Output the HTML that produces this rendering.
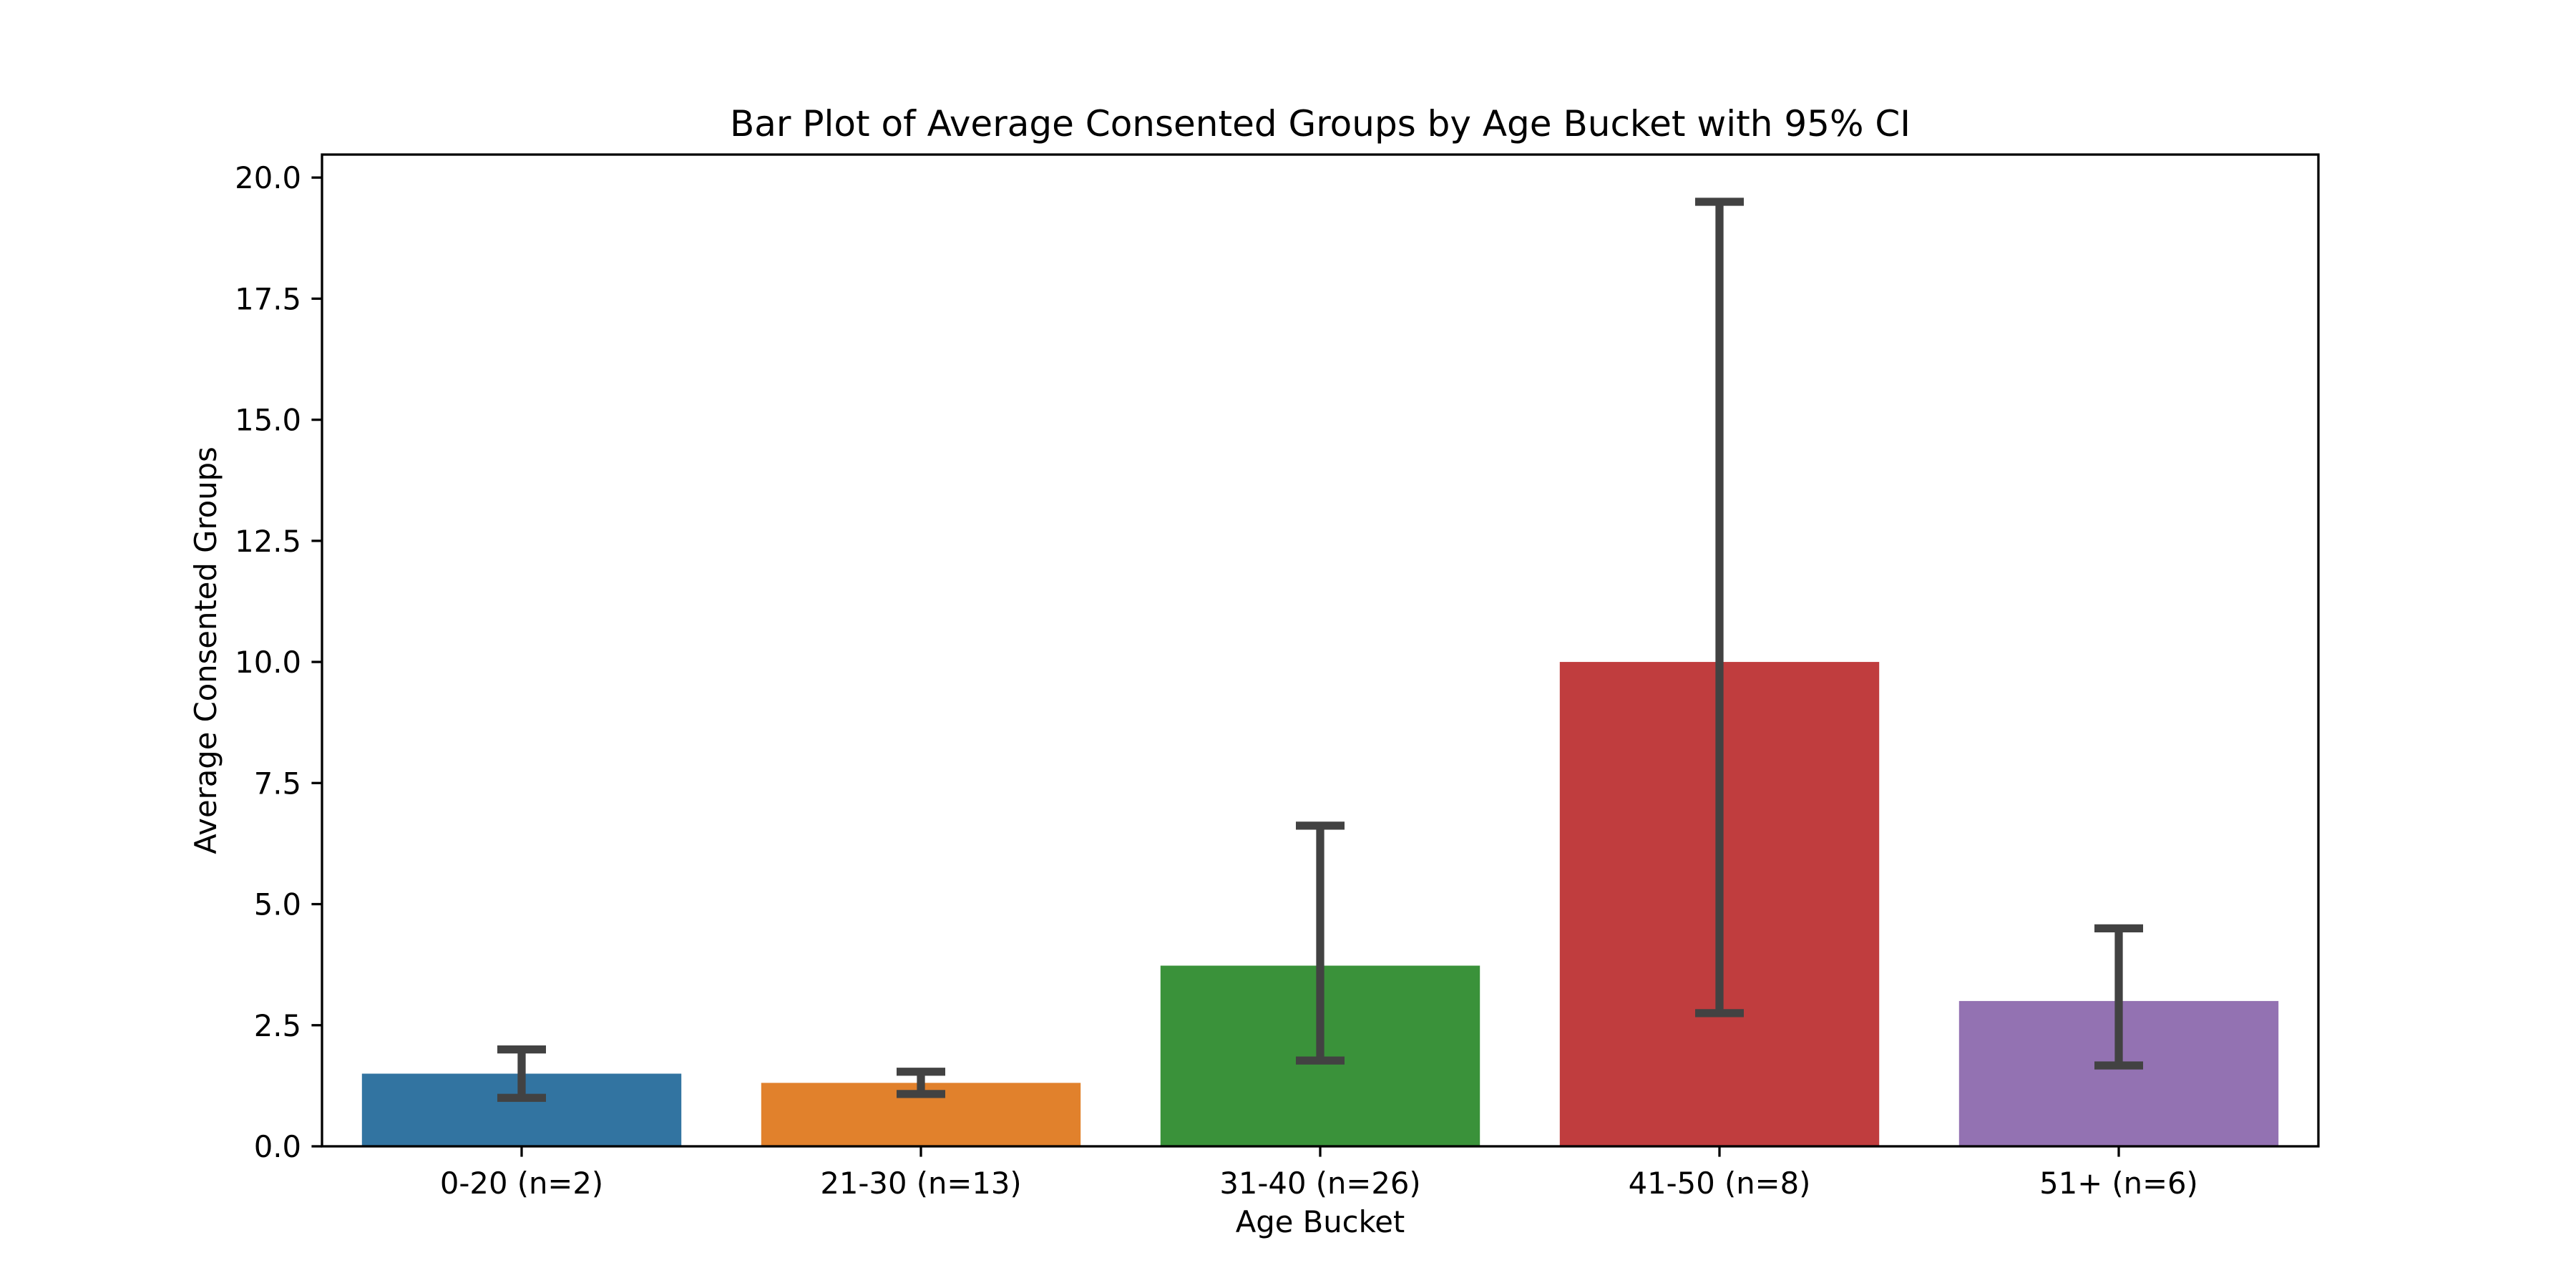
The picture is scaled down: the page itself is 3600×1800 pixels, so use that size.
<!DOCTYPE html>
<html><head><meta charset="utf-8"><style>
html,body{margin:0;padding:0;background:#fff;}
svg{display:block;font-family:"DejaVu Sans","Liberation Sans",sans-serif;}
</style></head><body>
<svg id="chart" width="3600" height="1800" viewBox="0 0 3600 1800" xmlns="http://www.w3.org/2000/svg">
<rect width="3600" height="1800" fill="#fff"/>
<text x="1845" y="190" font-size="50" text-anchor="middle">Bar Plot of Average Consented Groups by Age Bucket with 95% CI</text>
<g id="bars"></g>
<g id="errs"></g>
<g id="yaxis"></g>
<g id="xaxis"></g>
<rect x="450" y="216" width="2790" height="1386" fill="none" stroke="#000" stroke-width="3.3"/>
<text x="1845" y="1722" font-size="41.7" text-anchor="middle">Age Bucket</text>
<text x="0" y="0" font-size="41.7" text-anchor="middle" transform="translate(302,909) rotate(-90)">Average Consented Groups</text>
</svg>
<script>
const categories = ["0-20 (n=2)","21-30 (n=13)","31-40 (n=26)","41-50 (n=8)","51+ (n=6)"];
const means = [1.5, 1.31, 3.73, 10.0, 3.0];
const ciLow = [1.0, 1.08, 1.77, 2.75, 1.67];
const ciHigh = [2.0, 1.54, 6.62, 19.5, 4.5];
const colors = ["#3274a1","#e1812c","#3a923a","#c03d3e","#9372b2"];
const yTicks = [0, 2.5, 5, 7.5, 10, 12.5, 15, 17.5, 20];

const NS = "http://www.w3.org/2000/svg";
const L=450,R=3240,T=216,B=1602,YMAX=20.475;
const y = v => B - v/YMAX*(B-T);
const band = (R-L)/categories.length;
const xc = i => L + band*(i+0.5);
function mk(tag, attrs, parent){const e=document.createElementNS(NS,tag);for(const k in attrs)e.setAttribute(k,attrs[k]);document.getElementById(parent).appendChild(e);return e;}

categories.forEach((c,i)=>{
  const bw = band*0.8;
  const b = mk("rect",{x:xc(i)-bw/2,y:y(means[i]),width:bw,height:B-y(means[i]),fill:colors[i]},"bars");
  
  
  const g = mk("g",{stroke:"#424242","stroke-width":11.25,fill:"none"},"errs");
  
  
  const cw = 34;
  [["line",{x1:xc(i),x2:xc(i),y1:y(ciLow[i]),y2:y(ciHigh[i])}],
   ["line",{x1:xc(i)-cw,x2:xc(i)+cw,y1:y(ciLow[i]),y2:y(ciLow[i])}],
   ["line",{x1:xc(i)-cw,x2:xc(i)+cw,y1:y(ciHigh[i]),y2:y(ciHigh[i])}]].forEach(([t,a])=>{const e=document.createElementNS(NS,t);for(const k in a)e.setAttribute(k,a[k]);g.appendChild(e);});
  const tk = mk("line",{x1:xc(i),x2:xc(i),y1:B,y2:B+14.6,stroke:"#000","stroke-width":3.3},"xaxis");
  
  
  const tl = mk("text",{x:xc(i),y:1668,"font-size":41.7,"text-anchor":"middle"},"xaxis");
  
  
  tl.textContent = c;
});
yTicks.forEach(v=>{
  const tk = mk("line",{x1:L-14.6,x2:L,y1:y(v),y2:y(v),stroke:"#000","stroke-width":3.3},"yaxis");
  
  
  const tl = mk("text",{x:421,y:y(v)+15,"font-size":41.7,"text-anchor":"end"},"yaxis");
  
  
  tl.textContent = v.toFixed(1);
});
</script>
</body></html>
